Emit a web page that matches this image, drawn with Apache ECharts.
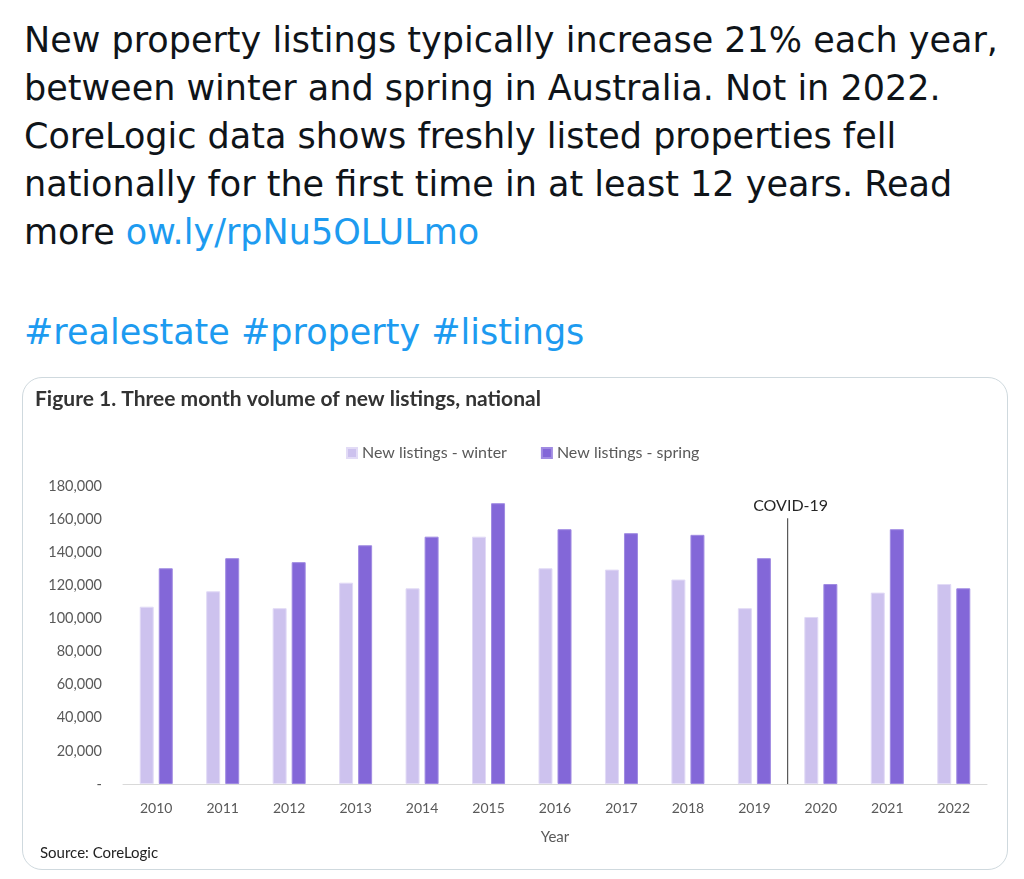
<!DOCTYPE html>
<html>
<head>
<meta charset="utf-8">
<script src="https://cdn.jsdelivr.net/npm/echarts@6/dist/echarts.min.js"></script>
<style>
  html, body { margin: 0; padding: 0; background: #fff; }
  body { width: 1024px; height: 879px; position: relative; overflow: hidden; }
  .tw { position: absolute; left: 24px; font-family: "DejaVu Sans", sans-serif; font-size: 35px; line-height: 48px; color: #0f1419; white-space: nowrap; }
  .lnk { color: #1d9bf0; }
  .card { position: absolute; left: 22px; top: 377px; width: 986px; height: 493px; border: 1px solid #cfd9de; border-radius: 20px; box-sizing: border-box; }
  #chart { position: absolute; left: 0; top: 0; width: 1024px; height: 879px; }
</style>
</head>
<body>
<div class="tw" style="top:16px">New property listings typically increase 21% each year,<br>between winter and spring in Australia. Not in 2022.<br>CoreLogic data shows freshly listed properties fell<br>nationally for the first time in at least 12 years. Read<br>more <span class="lnk">ow.ly/rpNu5OLULmo</span></div>
<div class="tw lnk" style="top:308px">#realestate #property #listings</div>
<div class="card"></div>
<div id="chart"></div>
<script>
const years = ['2010', '2011', '2012', '2013', '2014', '2015', '2016', '2017', '2018', '2019', '2020', '2021', '2022'];
const winter = [107100, 116400, 106200, 121600, 118200, 149400, 130300, 129500, 123500, 106200, 100900, 115600, 120800];
const spring = [130300, 136400, 134000, 144200, 149400, 169600, 153900, 151500, 150500, 136400, 120800, 153900, 118200];
const covidAt = 9.5;      // between 2019 and 2020
const covidTop = 160500;

const chart = echarts.init(document.getElementById('chart'));
const font = 'Lato, "Open Sans", sans-serif';

chart.setOption({
  animation: false,
  backgroundColor: 'transparent',
  textStyle: { fontFamily: font },
  title: [
    { text: 'Figure 1. Three month volume of new listings, national', left: 30, top: 384,
      textStyle: { fontSize: 21, fontWeight: 'bold', color: '#333', fontFamily: font } },
    { text: 'Source: CoreLogic', left: 35, top: 841,
      textStyle: { fontSize: 15, fontWeight: 'normal', color: '#222', fontFamily: font } }
  ],
  legend: {
    top: 440, left: 341, itemWidth: 10, itemHeight: 10, itemGap: 34, icon: 'rect',
    textStyle: { fontSize: 16, color: '#595959', fontFamily: font },
    data: ['New listings - winter', 'New listings - spring']
  },
  grid: { left: 123, right: 37, top: 486, bottom: 95 },
  xAxis: [{
    type: 'category', data: years, name: 'Year', nameLocation: 'middle', nameGap: 46,
    nameTextStyle: { fontSize: 15, color: '#595959' },
    axisLine: { lineStyle: { color: '#d9d9d9' } }, axisTick: { show: false },
    axisLabel: { fontSize: 14, color: '#595959', margin: 17 }
  }, {
    type: 'value', min: -0.5, max: 12.5, show: false
  }],
  yAxis: {
    type: 'value', min: 0, max: 180000, interval: 20000,
    splitLine: { show: false }, axisLine: { show: false }, axisTick: { show: false },
    axisLabel: { fontSize: 14.5, color: '#595959', margin: 21,
      formatter: v => v === 0 ? '-' : v.toLocaleString('en-US') }
  },
  series: [{
    name: 'New listings - winter', type: 'bar', data: winter, barWidth: 14, barGap: '36%',
    itemStyle: { color: '#cdc2ee', borderColor: '#e2dbf6', borderWidth: 1 }
  }, {
    name: 'New listings - spring', type: 'bar', data: spring, barWidth: 14,
    itemStyle: { color: '#8367d8', borderColor: '#a08be2', borderWidth: 1 }
  }, {
    type: 'line', xAxisIndex: 1, symbol: 'none', showSymbol: false, silent: true,
    lineStyle: { color: '#595959', width: 1.2 },
    data: [[covidAt, 0], [covidAt, covidTop]],
    markPoint: {
      symbol: 'circle', symbolSize: 0,
      label: { show: true, position: 'top', formatter: 'COVID-19', fontSize: 16, color: '#262626', distance: 4, offset: [3, 0], fontFamily: font },
      data: [{ coord: [covidAt, covidTop] }]
    }
  }]
});
</script>
</body>
</html>
